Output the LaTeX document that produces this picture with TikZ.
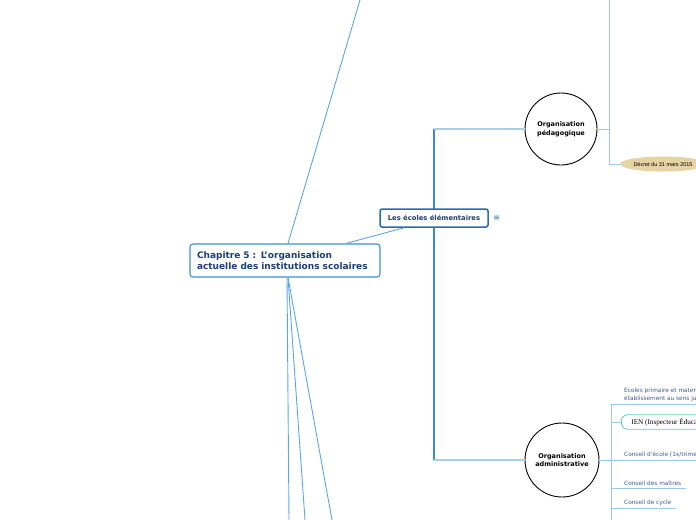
\documentclass[tikz,border=0pt]{standalone}
\usepackage{fontspec}
\setmainfont{DejaVu Sans}
\newfontfamily\ienfont{Liberation Serif}
\newfontfamily\decfont{Liberation Sans}
\usetikzlibrary{shapes.geometric,positioning}
\definecolor{navy}{HTML}{1E3C78}
\definecolor{chapblue}{HTML}{3D8FD8}
\definecolor{ecblue}{HTML}{2A6BB0}
\definecolor{linkblue}{HTML}{5AA6EE}
\definecolor{trunkblue}{HTML}{3A8AD0}
\definecolor{paleblue}{HTML}{A9CDEE}
\definecolor{leafblue}{HTML}{9CC8EC}
\definecolor{leaftext}{HTML}{3E5A9C}
\definecolor{ienteal}{HTML}{62CACA}
\definecolor{sand}{HTML}{E6D2A2}

\begin{document}
\begin{tikzpicture}[x=1pt,y=-1pt,
    chapbox/.style={draw=chapblue, line width=1.1pt, rounded corners=3pt, fill=white,
      text width=176pt, minimum height=33pt, align=left, inner xsep=7pt, text=navy,
      font=\fontsize{9}{11}\selectfont\bfseries},
    ecbox/.style={draw=ecblue, line width=1.5pt, rounded corners=2pt, fill=white,
      minimum width=108pt, minimum height=18pt, inner xsep=1pt, text=navy,
      font=\fontsize{6.8}{8}\selectfont\bfseries},
    orgcirc/.style={circle, draw=black, line width=0.9pt, fill=white, align=center,
      inner sep=0pt, font=\fontsize{6.5}{8.5}\selectfont\bfseries},
    leaf/.style={anchor=south west, inner xsep=1pt, inner ysep=2.5pt, text=leaftext,
      align=left, font=\fontsize{5.8}{7.2}\selectfont},
    ienbox/.style={draw=ienteal, line width=0.8pt, rounded corners=6pt, fill=white,
      anchor=west, minimum height=14pt, inner xsep=10pt, font=\ienfont\fontsize{7.2}{8}\selectfont},
    decbox/.style={ellipse, fill=sand, minimum width=86pt, minimum height=15pt,
      inner sep=0pt, font=\decfont\fontsize{5.5}{6}\selectfont},
    link/.style={linkblue, line width=0.9pt},
    trunk/.style={trunkblue, line width=1.4pt},
    twig/.style={leafblue, line width=0.8pt}]

  \clip (0,0) rectangle (696,520);
  \fill[white] (0,0) rectangle (696,520);

  % free ends at the border
  \coordinate (up) at (360,0);
  \coordinate (dA) at (289,520);
  \coordinate (dB) at (305,520);
  \coordinate (dC) at (332,520);
  \coordinate (pc) at (434,129);
  \coordinate (ac) at (434,460);
  \coordinate (pj) at (609,129);
  \coordinate (ptop) at (609,0);
  \coordinate (aj) at (611,460);
  \coordinate (abot) at (611,520);

  % main nodes
  \node[chapbox] (chap) at (285,260.5)
    {Chapitre 5 : L'organisation\\actuelle des institutions scolaires};
  \node[orgcirc, minimum size=72pt] (peda) at (561,129) {Organisation\\pédagogique};
  \node[orgcirc, minimum size=74pt] (admin) at (562,460) {Organisation\\administrative};

  % trunk behind the box
  \draw[trunk] (pc) -- (ac);
  \draw[paleblue, line width=1.2pt] (pc) -- (peda.west);
  \draw[paleblue, line width=1.2pt] (ac) -- (admin.west);
  \node[ecbox] (ecoles) at (434,218) {Les écoles élémentaires};
  \node[text=ecblue, font=\fontsize{8}{8}\selectfont, right=1pt of ecoles] (menu) {≡};

  % links from the chapter
  \draw[link] ([xshift=3pt]chap.north) -- (up);
  \draw[link] ([xshift=61pt]chap.north) -- ([xshift=-30pt]ecoles.south);
  \draw[link] ([xshift=2pt]chap.south) -- (dA);
  \draw[link] ([xshift=3pt]chap.south) -- (dB);
  \draw[link] ([xshift=3pt]chap.south) -- (dC);

  % pedagogique
  \node[decbox] (decret) at (663,164) {Décret du 31 mars 2015};
  \draw[twig] (peda.east) -- (pj);
  \draw[twig] (ptop) |- (decret.west);

  % administrative
  \draw[twig] (admin.east) -- (aj);
  \node[leaf] (ecprim) at (623,404)
    {Ecoles primaire et maternelle\\établissement au sens juridique};
  \node[ienbox] (ien) at (621,422) {IEN (Inspecteur Éducation nationale)};
  \node[leaf] (cecole) at (623,460) {Conseil d'école (1x/trimestre)};
  \node[leaf] (cmaitres) at (623,488) {Conseil des maîtres};
  \node[leaf] (ccycle) at (623,508) {Conseil de cycle};
  \draw[twig] (aj |- ecprim.south) -- (abot);
  \draw[twig] (aj |- ecprim.south) -- (ecprim.south east);
  \draw[twig] (aj |- ien.west) -- (ien.west);
  \draw[twig] (aj |- cecole.south) -- (cecole.south east);
  \draw[twig] (aj |- cmaitres.south) -- ([xshift=4pt]cmaitres.south east);
  \draw[twig] (aj |- ccycle.south) -- ([xshift=4pt]ccycle.south east);
\end{tikzpicture}
\end{document}
